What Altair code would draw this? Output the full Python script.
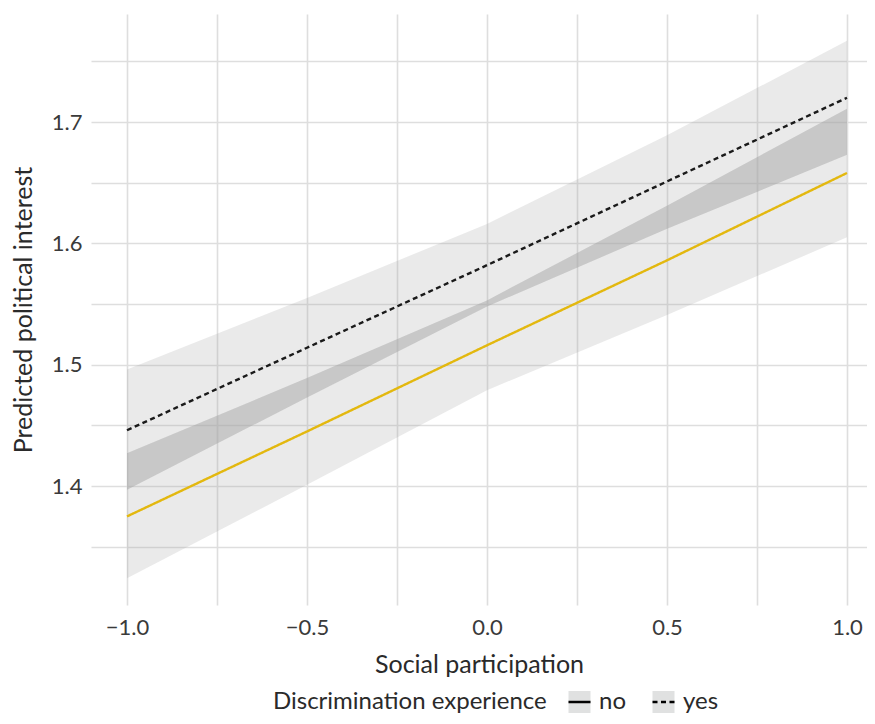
import altair as alt
import pandas as pd

# ---- data ----
x_vals = [-1.0, -0.5, 0.0, 0.5, 1.0]
groups = ["no", "yes"]
no_fit = [1.375, 1.445, 1.516, 1.586, 1.658]
no_lo = [1.324, 1.401, 1.479, 1.541, 1.605]
no_hi = [1.427, 1.489, 1.553, 1.631, 1.711]
yes_fit = [1.446, 1.514, 1.582, 1.651, 1.720]
yes_lo = [1.397, 1.473, 1.548, 1.612, 1.673]
yes_hi = [1.496, 1.555, 1.616, 1.689, 1.767]

x_ticks = [-1.0, -0.75, -0.5, -0.25, 0.0, 0.25, 0.5, 0.75, 1.0]
y_ticks = [1.35, 1.40, 1.45, 1.50, 1.55, 1.60, 1.65, 1.70, 1.75]

rows = []
for g, fit, lo, hi in [("no", no_fit, no_lo, no_hi), ("yes", yes_fit, yes_lo, yes_hi)]:
    for xv, f, l, h in zip(x_vals, fit, lo, hi):
        rows.append({"x": xv, "group": g, "line_group": g, "fit": f, "lo": l, "hi": h})
df = pd.DataFrame(rows)

ov = pd.DataFrame({
    "x": x_vals,
    "olo": [max(a, b) for a, b in zip(no_lo, yes_lo)],
    "ohi": [min(a, b) for a, b in zip(no_hi, yes_hi)],
})

FONT = "Lato"
xscale = alt.Scale(domain=[-1.1, 1.0556], nice=False, zero=False)
yscale = alt.Scale(domain=[1.302, 1.789], nice=False, zero=False)

xaxis = alt.Axis(
    values=x_ticks,
    labelExpr="abs(datum.value*2 - round(datum.value*2)) < 0.001 ? replace(format(datum.value, '.1f'), '-', '\u2212') : ''",
    labelPadding=12, titlePadding=14, labelFlush=False,
)
yaxis = alt.Axis(
    values=y_ticks,
    labelExpr="abs(datum.value*10 - round(datum.value*10)) < 0.01 ? format(datum.value, '.1f') : ''",
    labelPadding=9, titlePadding=15, labelFlush=False,
)

LEG_X, LEG_Y = 182, 676
common_leg = dict(
    title="Discrimination experience",
    orient="none", legendX=LEG_X, legendY=LEG_Y, direction="horizontal",
    titleOrient="left", symbolSize=484, clipHeight=24, titleLimit=500,
)

base = alt.Chart(df)

ribbons = base.mark_area(opacity=0.23).encode(
    x=alt.X("x:Q", scale=xscale, axis=xaxis, title="Social participation"),
    y=alt.Y("lo:Q", scale=yscale, axis=yaxis, title="Predicted political interest"),
    y2="hi:Q",
    fill=alt.Fill(
        "group:N",
        scale=alt.Scale(domain=groups, range=["#a3a5a5", "#a3a5a5"]),
        legend=alt.Legend(
            titleOpacity=0, labelOpacity=0, symbolType="square",
            symbolStrokeWidth=2.4, symbolStrokeColor="transparent",
            symbolOpacity=0.33, **common_leg,
        ),
    ),
    detail="group:N",
)

overlap = alt.Chart(ov).mark_area(opacity=0.33, color="#a3a5a5").encode(
    x=alt.X("x:Q", scale=xscale),
    y=alt.Y("olo:Q", scale=yscale),
    y2="ohi:Q",
)

lines = base.mark_line(strokeWidth=2.4).encode(
    x=alt.X("x:Q", scale=xscale),
    y=alt.Y("fit:Q", scale=yscale),
    stroke=alt.Stroke(
        "line_group:N",
        scale=alt.Scale(domain=groups, range=["#E3B80F", "#1a1a1a"]),
        legend=None,
    ),
    strokeDash=alt.StrokeDash(
        "group:N",
        scale=alt.Scale(domain=groups, range=[[1, 0], [5, 3.5]]),
        legend=alt.Legend(
            symbolType="stroke", symbolStrokeColor="black",
            symbolStrokeWidth=2.4, **common_leg,
        ),
    ),
)

chart = (
    alt.layer(ribbons, overlap, lines)
    .resolve_legend(fill="independent", strokeDash="independent")
    .properties(
        width=776, height=591,
        autosize=alt.AutoSizeParams(type="none"),
        padding={"left": 83, "top": 6, "right": 0, "bottom": 111},
    )
    .configure_view(stroke=None)
    .configure_axis(
        domain=False, ticks=False, grid=True, gridColor="#dedede", gridWidth=1.6,
        labelFont=FONT, labelFontSize=22, labelColor="#3a3a3a",
        titleFont=FONT, titleFontSize=25, titleFontWeight="normal", titleColor="#2a2a2a",
    )
    .configure_legend(
        titleFont=FONT, titleFontSize=24, titleFontWeight="normal", titleColor="#2a2a2a",
        labelFont=FONT, labelFontSize=24, labelColor="#2a2a2a",
        titlePadding=20, labelOffset=7, columnPadding=24,
    )
)

chart.save("out.html", embed_options={"renderer": "svg", "actions": False})
